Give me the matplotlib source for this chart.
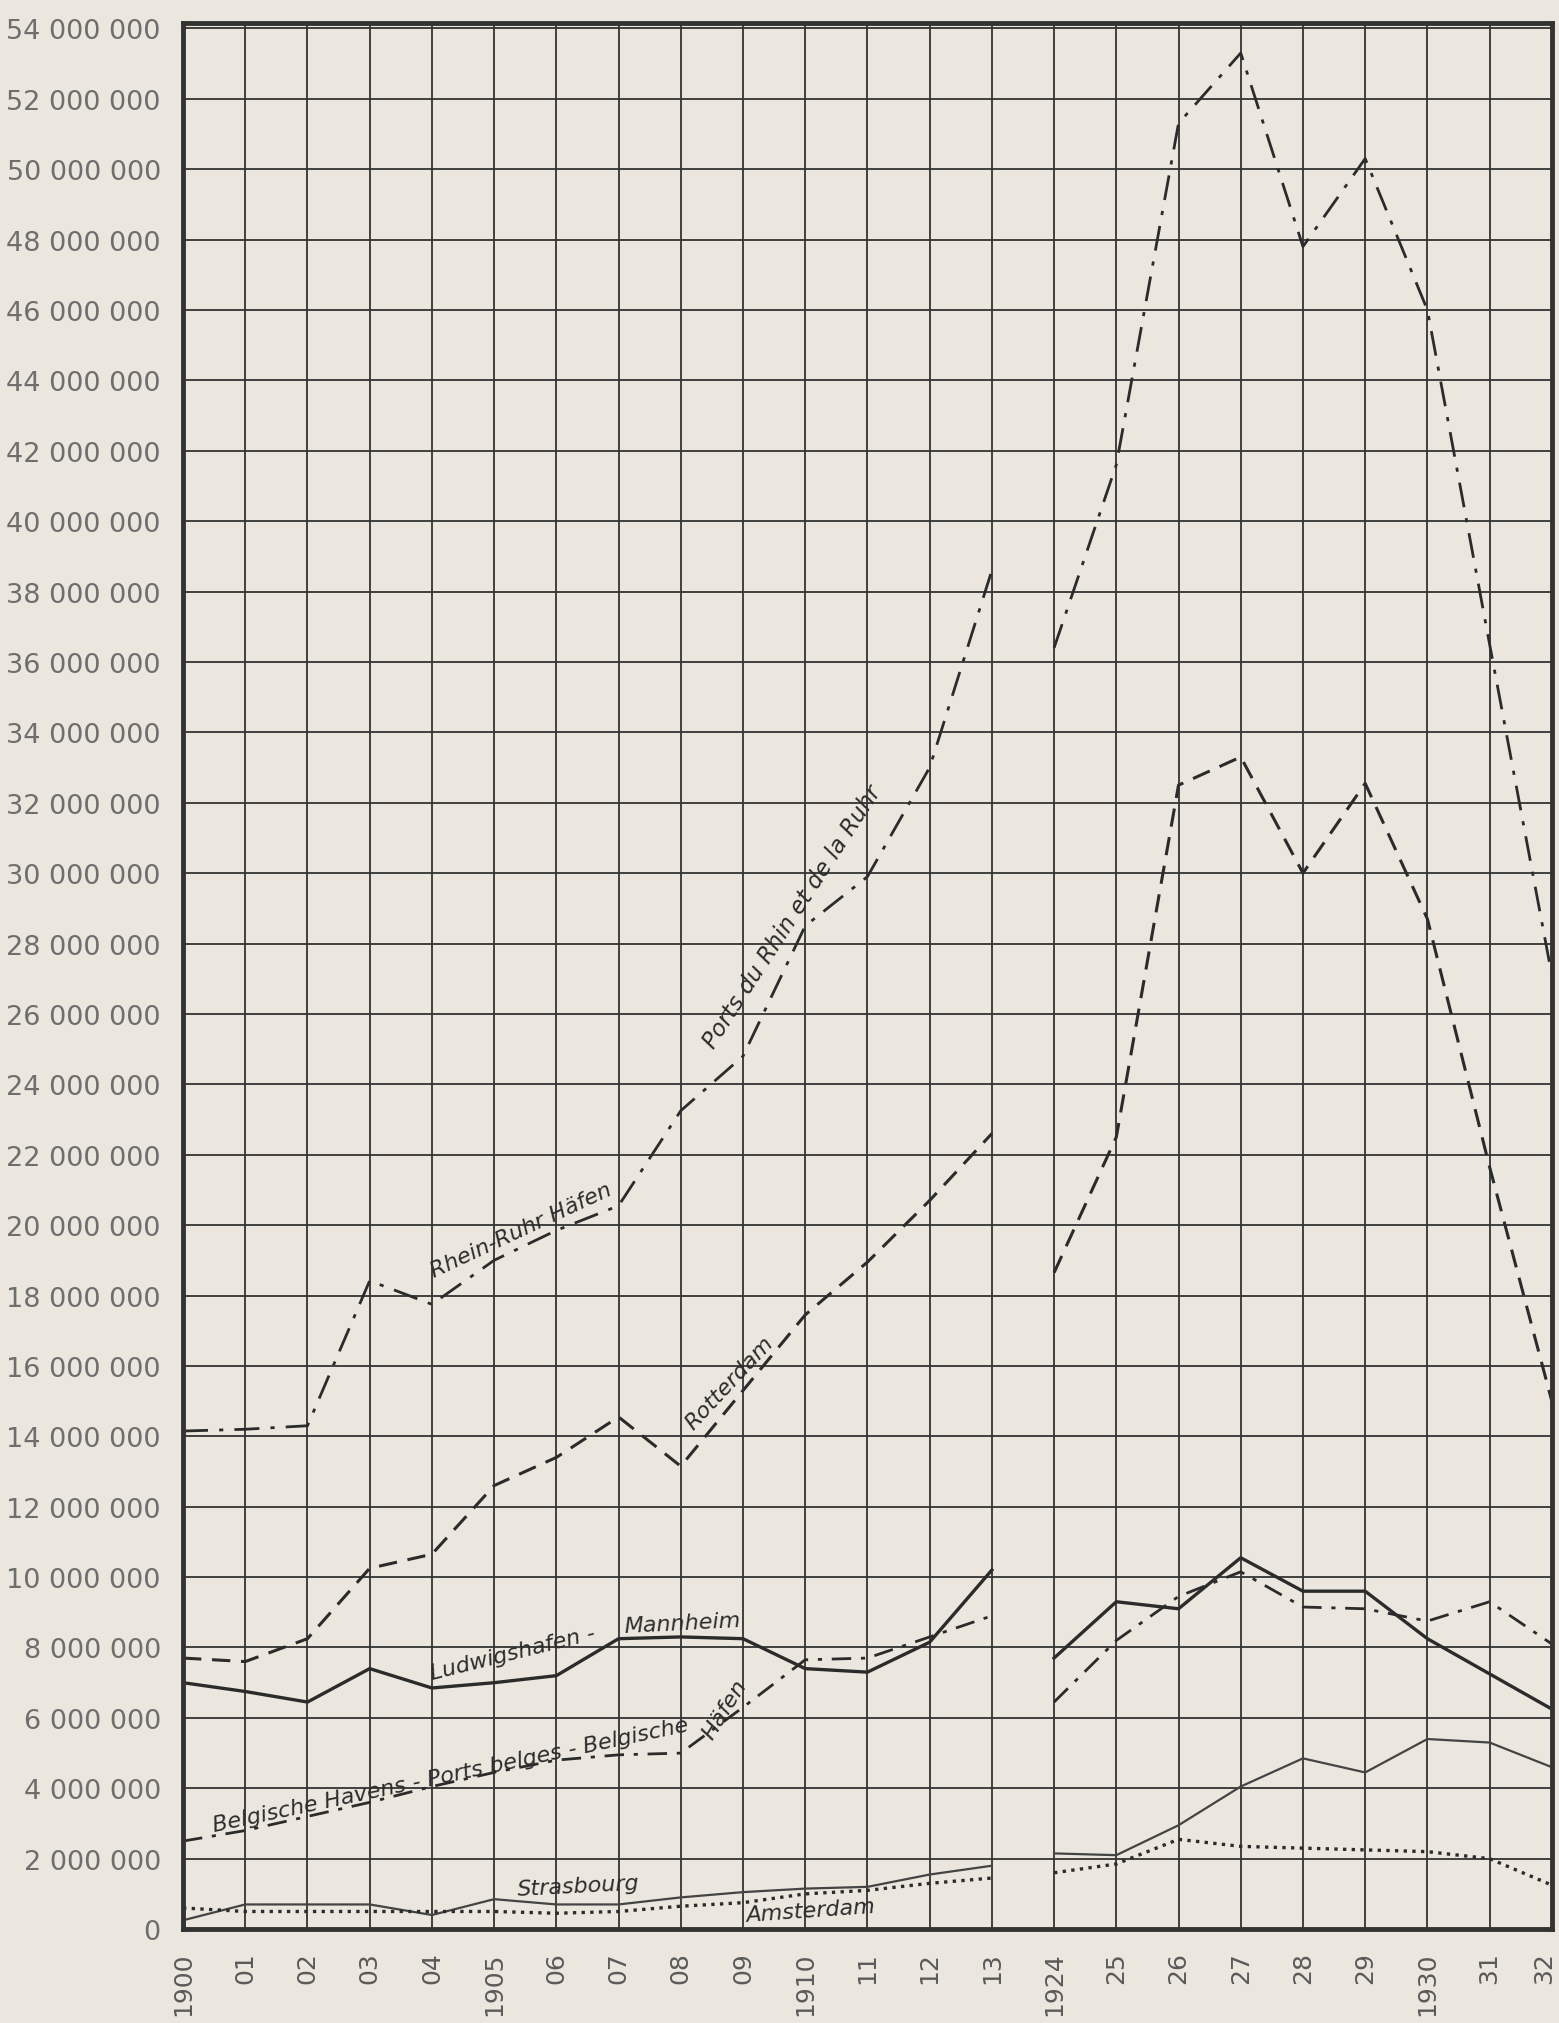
import matplotlib.pyplot as plt
import matplotlib.transforms as mtransforms
import numpy as np

# year labels along the x axis (1914-1923 left out in the original)
year_labels = ["1900", "01", "02", "03", "04", "1905", "06", "07", "08", "09",
               "1910", "11", "12", "13",
               "1924", "25", "26", "27", "28", "29", "1930", "31", "32"]

# traffic in millions of tons, before and after the war
rhein_pre = [14.15, 14.2, 14.3, 18.42, 17.75, 19.0, 19.85, 20.55, 23.25, 24.8, 28.5, 29.9, 33.0, 38.6]
rhein_post = [36.4, 41.6, 51.3, 53.3, 47.8, 50.3, 46.0, 36.5, 27.1]

rotterdam_pre = [7.7, 7.6, 8.25, 10.25, 10.65, 12.6, 13.4, 14.55, 13.15, 15.3, 17.45, 18.95, 20.7, 22.6]
rotterdam_post = [18.65, 22.5, 32.5, 33.3, 30.0, 32.55, 28.7, 21.65, 15.0]

ludwig_pre = [7.0, 6.75, 6.45, 7.4, 6.85, 7.0, 7.2, 8.25, 8.3, 8.25, 7.4, 7.3, 8.15, 10.2]
ludwig_post = [7.7, 9.3, 9.1, 10.55, 9.6, 9.6, 8.25, 7.25, 6.25]

belg_pre = [2.5, 2.8, 3.2, 3.6, 4.05, 4.45, 4.8, 4.95, 5.0, 6.3, 7.65, 7.7, 8.3, 8.9]
belg_post = [6.45, 8.2, 9.45, 10.15, 9.15, 9.1, 8.75, 9.3, 8.1]

stras_pre = [0.25, 0.7, 0.7, 0.7, 0.4, 0.85, 0.7, 0.7, 0.9, 1.05, 1.15, 1.2, 1.55, 1.8]
stras_post = [2.15, 2.1, 2.95, 4.05, 4.85, 4.45, 5.4, 5.3, 4.6]

amst_pre = [0.6, 0.5, 0.5, 0.5, 0.5, 0.5, 0.45, 0.5, 0.65, 0.75, 1.0, 1.1, 1.3, 1.45]
amst_post = [1.6, 1.85, 2.55, 2.35, 2.3, 2.25, 2.2, 2.0, 1.25]

y_ticks = list(range(0, 55, 2))

paper = "#ebe7de"
ink = "#2b2b2b"

fig = plt.figure(figsize=(15.59, 20.24), dpi=100, facecolor=paper)
ax = fig.add_axes([0.1174, 0.0464, 0.878, 0.9417])
ax.set_facecolor(paper)

x_pre = np.arange(len(rhein_pre))
x_post = np.arange(len(rhein_pre), len(year_labels))

def draw(pre, post, **kw):
    ax.plot(x_pre, np.array(pre) * 1e6, **kw)
    ax.plot(x_post, np.array(post) * 1e6, **kw)

draw(rhein_pre, rhein_post, color=ink, lw=2.0, ls=(0, (9, 4, 1.5, 4)))
draw(rotterdam_pre, rotterdam_post, color=ink, lw=2.2, ls=(0, (6, 3.5)))
draw(ludwig_pre, ludwig_post, color=ink, lw=2.4, ls="-")
draw(belg_pre, belg_post, color=ink, lw=2.0, ls=(0, (7, 3.5, 1.5, 3.5)))
draw(stras_pre, stras_post, color="#444444", lw=1.6, ls="-")
draw(amst_pre, amst_post, color=ink, lw=2.4, ls=(0, (1, 1.6)))

ax.set_xlim(0, len(year_labels) - 1)
ax.set_ylim(0, 54.15e6)

ax.set_xticks(np.arange(len(year_labels)))
ax.set_xticklabels(year_labels, rotation=90, fontsize=18, color="#5a5a5a",
                   family="DejaVu Sans")
ax.set_yticks([v * 1e6 for v in y_ticks])
ax.set_yticklabels([f"{v * 1000000:,}".replace(",", " ") for v in y_ticks],
                   fontsize=19.5, color="#6e6e6e", family="DejaVu Sans")
ax.tick_params(axis="both", length=0)
ax.tick_params(axis="x", pad=16)
ax.tick_params(axis="y", pad=16)

# the last year label sits on the paper edge, nudge it inside
last = ax.get_xticklabels()[-1]
last.set_transform(last.get_transform() +
                   mtransforms.ScaledTranslation(-8 / 100, 0, fig.dpi_scale_trans))

ax.grid(True, color="#333333", lw=1.3)
ax.set_axisbelow(True)
for s in ax.spines.values():
    s.set_linewidth(3.5)
    s.set_color("#333333")

lab = dict(fontsize=16, style="italic", color="#2b2b2b", ha="center",
           rotation_mode="anchor")
ax.text(5.5, 19.6e6, "Rhein-Ruhr Häfen", rotation=25, va="bottom", **lab)
ax.text(9.95, 28.6e6, "Ports du Rhin et de la Ruhr", rotation=57, va="bottom",
        **{**lab, "fontsize": 16.5})
ax.text(8.9, 15.35e6, "Rotterdam", rotation=47, va="bottom", **lab)
ax.text(5.3, 7.85e6, "Ludwigshafen -", rotation=14, va="center", **lab)
ax.text(8.02, 8.7e6, "Mannheim", rotation=3, va="center", **lab)
ax.text(4.3, 4.4e6, "Belgische Havens - Ports belges - Belgische", rotation=12,
        va="center", **lab)
ax.text(8.71, 6.25e6, "Häfen", rotation=58, va="center", **lab)
ax.text(6.35, 1.22e6, "Strasbourg", rotation=3, va="center", **lab)
ax.text(10.08, 0.52e6, "Amsterdam", rotation=4, va="center", **lab)

fig.savefig("out.png", dpi=100, facecolor=paper)
